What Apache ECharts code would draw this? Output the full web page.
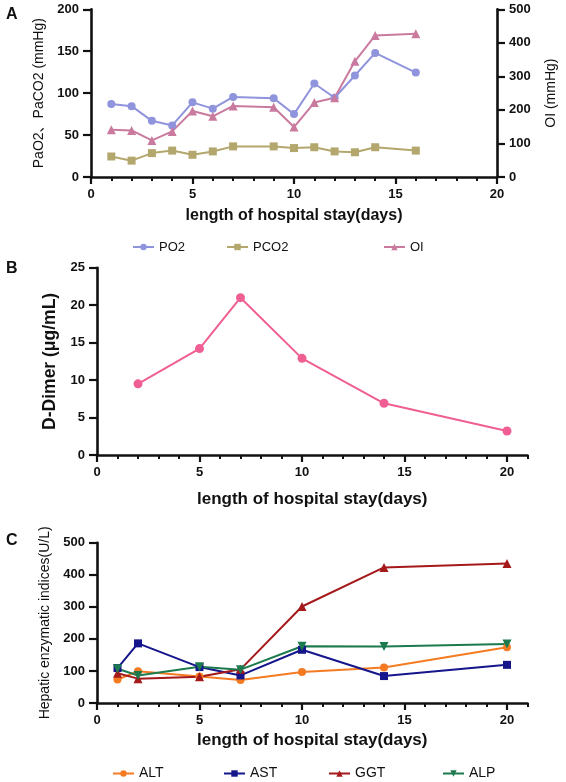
<!DOCTYPE html>
<html>
<head>
<meta charset="utf-8">
<script src="https://cdn.jsdelivr.net/npm/echarts@6/dist/echarts.min.js"></script>
<style>html,body{margin:0;padding:0;background:#fff;}#c{width:566px;height:782px;}</style>
</head>
<body>
<div id="c"></div>
<script>
// ---------- Data ----------
// Panel A
const daysA = [1, 2, 3, 4, 5, 6, 7, 9, 10, 11, 12, 13, 14, 16];
const po2   = [87, 84.5, 67, 61.5, 89, 81.5, 95.5, 94, 75, 111.5, 94.5, 121, 148, 124.5];
const pco2  = [24.5, 19.5, 28.5, 31.5, 26.5, 30.5, 36.5, 36.5, 34.5, 35.5, 30.5, 29.5, 35.5, 31.5];
const oi    = [141, 139, 109, 136, 197, 181, 212, 208, 149, 222, 236, 345, 422, 427];
// Panel B
const daysB = [2, 5, 7, 10, 14, 20];
const dDimer = [9.5, 14.2, 21.0, 12.9, 6.9, 3.2];
// Panel C
const daysC = [1, 2, 5, 7, 10, 14, 20];
const alt = [73, 99, 83, 72, 97, 111, 174];
const ast = [109, 186, 112, 86, 166, 84, 119];
const ggt = [93, 76, 82, 105, 301, 423, 435];
const alp = [107, 86, 113, 104, 177, 176, 184];
// Tick values
const xMajorTicks = [0, 5, 10, 15, 20];

const pair = (xs, ys) => xs.map((x, i) => [x, ys[i]]);
const FONT = '"Liberation Sans", Arial, "Noto Sans CJK SC", sans-serif';
const BLACK = '#111';

const chart = echarts.init(document.getElementById('c'), null, {renderer: 'canvas'});

function yAxisBase(grid, min, max, interval, name, nameGap, nameSize, bold, pos) {
  return {
    type: 'value', gridIndex: grid, min: min, max: max, interval: interval,
    position: pos || 'left',
    name: name, nameLocation: 'middle', nameGap: nameGap,
    nameTextStyle: {fontFamily: FONT, fontSize: nameSize, fontWeight: bold ? 'bold' : 'normal', color: BLACK},
    axisLine: {show: true, onZero: false, lineStyle: {color: BLACK, width: 2.6}},
    axisTick: {show: true, length: 8, lineStyle: {color: BLACK, width: 2.2}},
    axisLabel: {fontFamily: FONT, fontSize: 13, fontWeight: 'bold', color: BLACK, margin: 12},
    splitLine: {show: false}
  };
}
function xMainAxis(grid, max, nameGap, nameSize) {
  return {
    type: 'value', gridIndex: grid, min: 0, max: max,
    name: 'length of hospital stay(days)', nameLocation: 'middle', nameGap: nameGap,
    nameTextStyle: {fontFamily: FONT, fontSize: nameSize, fontWeight: 'bold', color: BLACK},
    axisLine: {show: true, onZero: false, lineStyle: {color: BLACK, width: 2.6}},
    axisTick: {show: true, length: 7, customValues: xMajorTicks, lineStyle: {color: BLACK, width: 2.2}},
    axisLabel: {fontFamily: FONT, fontSize: 13, fontWeight: 'bold', color: BLACK, margin: 11, customValues: xMajorTicks},
    splitLine: {show: false}
  };
}
function xMinorAxis(grid, max) {
  return {
    type: 'value', gridIndex: grid, min: 0, max: max, interval: 1, position: 'bottom',
    axisLine: {show: false, onZero: false},
    axisTick: {show: true, length: 4, lineStyle: {color: BLACK, width: 2}},
    axisLabel: {show: false}, splitLine: {show: false}
  };
}
function lineSeries(name, xi, yi, data, color, symbol, size, rotate) {
  return {
    name: name, type: 'line', xAxisIndex: xi, yAxisIndex: yi, data: data,
    symbol: symbol, symbolSize: size, symbolRotate: rotate || 0,
    itemStyle: {color: color}, lineStyle: {color: color, width: 2},
    showSymbol: true, animation: false, z: 3
  };
}
function legendAt(name, left, top, size) {
  return {
    data: [name], left: left, top: top, padding: 0, itemWidth: 21, itemHeight: 8, itemGap: 5,
    textStyle: {fontFamily: FONT, fontSize: size, color: BLACK}
  };
}

const C_PO2 = '#8f94dc', C_PCO2 = '#b3a76e', C_OI = '#c97a9e';
const C_DD = '#ef5f93';
const C_ALT = '#f57b22', C_AST = '#15158c', C_GGT = '#a5191b', C_ALP = '#1d7a4e';

const option = {
  backgroundColor: '#fff',
  animation: false,
  title: [
    {text: 'A', left: 1, top: 2, textStyle: {fontFamily: FONT, fontSize: 16, fontWeight: 'bold', color: BLACK}},
    {text: 'B', left: 1, top: 256, textStyle: {fontFamily: FONT, fontSize: 16, fontWeight: 'bold', color: BLACK}},
    {text: 'C', left: 1, top: 528, textStyle: {fontFamily: FONT, fontSize: 16, fontWeight: 'bold', color: BLACK}}
  ],
  grid: [
    {left: 91, right: 69, top: 9.3, bottom: 605, containLabel: false},
    {left: 97, right: 38.5, top: 267.7, bottom: 327, containLabel: false},
    {left: 97, right: 38.5, top: 542.7, bottom: 79, containLabel: false}
  ],
  legend: [
    legendAt('PO2', 132, 240.5, 13),
    legendAt('PCO2', 226, 240.5, 13),
    legendAt('OI', 383, 240.5, 13),
    legendAt('ALT', 112, 766.5, 14),
    legendAt('AST', 223, 766.5, 14),
    legendAt('GGT', 328, 766.5, 14),
    legendAt('ALP', 442, 766.5, 14)
  ],
  xAxis: [
    xMainAxis(0, 20, 31, 16),
    xMinorAxis(0, 20),
    xMainAxis(1, 21, 36, 17),
    xMinorAxis(1, 21),
    xMainAxis(2, 21, 28.5, 17),
    xMinorAxis(2, 21)
  ],
  yAxis: [
    yAxisBase(0, 0, 200, 50, 'PaO2、PaCO2 (mmHg)', 45, 14, false, 'left'),
    yAxisBase(0, 0, 500, 100, 'OI (mmHg)', 47, 14, false, 'right'),
    yAxisBase(1, 0, 25, 5, 'D-Dimer (μg/mL)', 38.5, 17.5, true, 'left'),
    yAxisBase(2, 0, 500, 100, 'Hepatic enzymatic indices(U/L)', 45, 14, false, 'left')
  ],
  series: [
    lineSeries('PO2', 0, 0, pair(daysA, po2), C_PO2, 'circle', 8),
    lineSeries('PCO2', 0, 0, pair(daysA, pco2), C_PCO2, 'rect', 8),
    lineSeries('OI', 0, 1, pair(daysA, oi), C_OI, 'triangle', 9),
    lineSeries('D-Dimer', 2, 2, pair(daysB, dDimer), C_DD, 'circle', 9),
    lineSeries('ALT', 4, 3, pair(daysC, alt), C_ALT, 'circle', 8),
    lineSeries('AST', 4, 3, pair(daysC, ast), C_AST, 'rect', 8),
    lineSeries('GGT', 4, 3, pair(daysC, ggt), C_GGT, 'triangle', 9),
    lineSeries('ALP', 4, 3, pair(daysC, alp), C_ALP, 'triangle', 9, 180)
  ]
};
chart.setOption(option);
</script>
</body>
</html>
